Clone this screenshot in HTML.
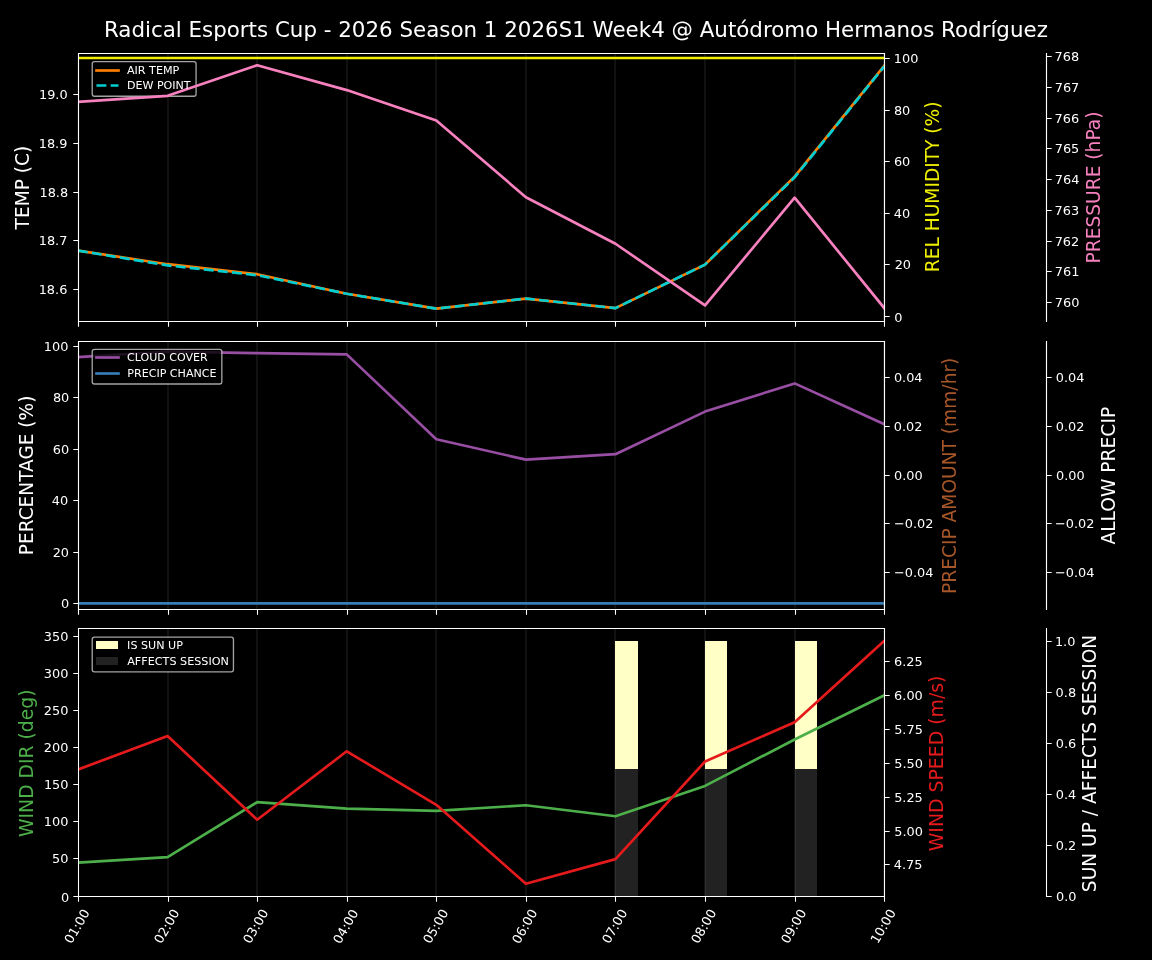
<!DOCTYPE html>
<html lang="en"><head><meta charset="utf-8"><title>Radical Esports Cup weather forecast</title>
<style>html,body{margin:0;padding:0;background:#000}svg{display:block}text{white-space:pre}</style></head>
<body>
<svg width="1152" height="960" viewBox="0 0 1152 960">
<rect width="1152" height="960" fill="#000"/>
<defs>
<clipPath id="c0"><rect x="78" y="52.85" width="806.2" height="267.9"/></clipPath>
<clipPath id="c1"><rect x="78" y="340.65" width="806.2" height="267.9"/></clipPath>
<clipPath id="c2"><rect x="78" y="628.45" width="806.2" height="267.9"/></clipPath>
</defs>
<path clip-path="url(#c0)" d="M78 52.85V320.75M168 52.85V320.75M257 52.85V320.75M347 52.85V320.75M436 52.85V320.75M526 52.85V320.75M615 52.85V320.75M705 52.85V320.75M795 52.85V320.75M884 52.85V320.75" stroke="#fff" stroke-opacity="0.085" stroke-width="1.6" fill="none"/>
<path d="M78.5 321.5v5.17M168.5 321.5v5.17M257.5 321.5v5.17M347.5 321.5v5.17M436.5 321.5v5.17M526.5 321.5v5.17M615.5 321.5v5.17M705.5 321.5v5.17M795.5 321.5v5.17M884.5 321.5v5.17" stroke="#fff" stroke-width="1.07" fill="none"/>
<path d="M78.5 289.5h-5.17M78.5 240.5h-5.17M78.5 192.5h-5.17M78.5 143.5h-5.17M78.5 94.5h-5.17" stroke="#fff" stroke-width="1.07" fill="none"/>
<polyline clip-path="url(#c0)" points="78,250.6 167.58,264.2 257.16,274.2 346.73,293.75 436.31,308.65 525.89,298.55 615.47,308.1 705.04,264.6 794.62,176.6 884.2,65.9" fill="none" stroke="#ff7f00" stroke-width="2.67" stroke-linejoin="round" stroke-linecap="square"/>
<polyline clip-path="url(#c0)" points="78,250.6 167.58,265.4 257.16,275.2 346.73,293.75 436.31,308.65 525.89,298.55 615.47,308.1 705.04,264.6 794.62,177.3 884.2,66.4" fill="none" stroke="#00ced1" stroke-width="2.67" stroke-linejoin="round" stroke-linecap="butt" stroke-dasharray="9.87 4.27"/>
<path d="M78.5 53.5H884.5V321.5H78.5Z" fill="none" stroke="#fff" stroke-width="1.07" stroke-linejoin="miter"/>
<path d="M1046.5 53.5V321.5" fill="none" stroke="#fff" stroke-width="1.07" stroke-linecap="square"/>
<rect x="92.22" y="61.58" width="103.86" height="34.64" rx="2.22" fill="#000" fill-opacity="0.8" stroke="#ccc" stroke-opacity="0.8" stroke-width="1.33"/>
<path d="M96.5 70.5H118.5" stroke="#ff7f00" stroke-width="2.67" stroke-linecap="square" fill="none"/>
<path d="M96.5 85.5H118.5" stroke="#00ced1" stroke-width="2.67" stroke-dasharray="9.87 4.27" fill="none"/>
<path d="M884.5 316.5h5.17M884.5 264.5h5.17M884.5 213.5h5.17M884.5 161.5h5.17M884.5 110.5h5.17M884.5 58.5h5.17" stroke="#fff" stroke-width="1.07" fill="none"/>
<polyline clip-path="url(#c0)" points="78,58 167.58,58 257.16,58 346.73,58 436.31,58 525.89,58 615.47,58 705.04,58 794.62,58 884.2,58" fill="none" stroke="#eeee00" stroke-width="2.67" stroke-linejoin="round" stroke-linecap="square"/>
<path d="M1046.5 302.5h5.17M1046.5 271.5h5.17M1046.5 241.5h5.17M1046.5 210.5h5.17M1046.5 179.5h5.17M1046.5 148.5h5.17M1046.5 118.5h5.17M1046.5 87.5h5.17M1046.5 56.5h5.17" stroke="#fff" stroke-width="1.07" fill="none"/>
<polyline clip-path="url(#c0)" points="78,101.9 167.58,95.8 257.16,65.2 346.73,90.1 436.31,120.6 525.89,197.2 615.47,243.75 705.04,305.4 794.62,197.7 884.2,308" fill="none" stroke="#f781bf" stroke-width="2.67" stroke-linejoin="round" stroke-linecap="square"/>
<path d="M78.5 53.5H884.5V321.5H78.5Z" fill="none" stroke="#fff" stroke-width="1.07" stroke-linejoin="miter"/>
<path d="M1046.5 53.5V321.5" fill="none" stroke="#fff" stroke-width="1.07" stroke-linecap="square"/>
<path clip-path="url(#c1)" d="M78 340.65V608.55M168 340.65V608.55M257 340.65V608.55M347 340.65V608.55M436 340.65V608.55M526 340.65V608.55M615 340.65V608.55M705 340.65V608.55M795 340.65V608.55M884 340.65V608.55" stroke="#fff" stroke-opacity="0.085" stroke-width="1.6" fill="none"/>
<path d="M78.5 609.5v5.17M168.5 609.5v5.17M257.5 609.5v5.17M347.5 609.5v5.17M436.5 609.5v5.17M526.5 609.5v5.17M615.5 609.5v5.17M705.5 609.5v5.17M795.5 609.5v5.17M884.5 609.5v5.17" stroke="#fff" stroke-width="1.07" fill="none"/>
<path d="M78.5 603.5h-5.17M78.5 552.5h-5.17M78.5 500.5h-5.17M78.5 449.5h-5.17M78.5 397.5h-5.17M78.5 346.5h-5.17" stroke="#fff" stroke-width="1.07" fill="none"/>
<polyline clip-path="url(#c1)" points="78,357.2 167.58,351.6 257.16,353.2 346.73,354.4 436.31,439.3 525.89,459.6 615.47,454.2 705.04,411.6 794.62,383.4 884.2,424.2" fill="none" stroke="#984ea3" stroke-width="2.67" stroke-linejoin="round" stroke-linecap="square"/>
<polyline clip-path="url(#c1)" points="78,603.45 167.58,603.45 257.16,603.45 346.73,603.45 436.31,603.45 525.89,603.45 615.47,603.45 705.04,603.45 794.62,603.45 884.2,603.45" fill="none" stroke="#377eb8" stroke-width="2.67" stroke-linejoin="round" stroke-linecap="square"/>
<path d="M78.5 341.5H884.5V609.5H78.5Z" fill="none" stroke="#fff" stroke-width="1.07" stroke-linejoin="miter"/>
<path d="M1046.5 341.5V609.5" fill="none" stroke="#fff" stroke-width="1.07" stroke-linecap="square"/>
<rect x="92.22" y="349.38" width="129.61" height="34.64" rx="2.22" fill="#000" fill-opacity="0.8" stroke="#ccc" stroke-opacity="0.8" stroke-width="1.33"/>
<path d="M96.5 357.5H118.5" stroke="#984ea3" stroke-width="2.67" stroke-linecap="square" fill="none"/>
<path d="M96.5 373.5H118.5" stroke="#377eb8" stroke-width="2.67" stroke-linecap="square" fill="none"/>
<path d="M884.5 572.5h5.17M884.5 523.5h5.17M884.5 475.5h5.17M884.5 426.5h5.17M884.5 377.5h5.17" stroke="#fff" stroke-width="1.07" fill="none"/>
<path d="M1046.5 572.5h5.17M1046.5 523.5h5.17M1046.5 475.5h5.17M1046.5 426.5h5.17M1046.5 377.5h5.17" stroke="#fff" stroke-width="1.07" fill="none"/>
<path d="M78.5 341.5H884.5V609.5H78.5Z" fill="none" stroke="#fff" stroke-width="1.07" stroke-linejoin="miter"/>
<path d="M1046.5 341.5V609.5" fill="none" stroke="#fff" stroke-width="1.07" stroke-linecap="square"/>
<rect x="615" y="641" width="23" height="128" fill="#ffffc6"/>
<rect x="615" y="769" width="23" height="127" fill="#222222"/>
<rect x="705" y="641" width="22" height="128" fill="#ffffc6"/>
<rect x="705" y="769" width="22" height="127" fill="#222222"/>
<rect x="795" y="641" width="22" height="128" fill="#ffffc6"/>
<rect x="795" y="769" width="22" height="127" fill="#222222"/>
<path clip-path="url(#c2)" d="M78 628.45V896.35M168 628.45V896.35M257 628.45V896.35M347 628.45V896.35M436 628.45V896.35M526 628.45V896.35M615 628.45V896.35M705 628.45V896.35M795 628.45V896.35M884 628.45V896.35" stroke="#fff" stroke-opacity="0.085" stroke-width="1.6" fill="none"/>
<path d="M78.5 896.5v5.17M168.5 896.5v5.17M257.5 896.5v5.17M347.5 896.5v5.17M436.5 896.5v5.17M526.5 896.5v5.17M615.5 896.5v5.17M705.5 896.5v5.17M795.5 896.5v5.17M884.5 896.5v5.17" stroke="#fff" stroke-width="1.07" fill="none"/>
<path d="M78.5 896.5h-5.17M78.5 858.5h-5.17M78.5 821.5h-5.17M78.5 784.5h-5.17M78.5 747.5h-5.17M78.5 710.5h-5.17M78.5 673.5h-5.17M78.5 636.5h-5.17" stroke="#fff" stroke-width="1.07" fill="none"/>
<polyline clip-path="url(#c2)" points="78,862.7 167.58,857.2 257.16,802.2 346.73,808.6 436.31,810.9 525.89,805.25 615.47,816.3 705.04,785.9 794.62,739.5 884.2,695.4" fill="none" stroke="#4daf4a" stroke-width="2.67" stroke-linejoin="round" stroke-linecap="square"/>
<path d="M884.5 864.5h5.17M884.5 831.5h5.17M884.5 797.5h5.17M884.5 763.5h5.17M884.5 729.5h5.17M884.5 695.5h5.17M884.5 661.5h5.17" stroke="#fff" stroke-width="1.07" fill="none"/>
<polyline clip-path="url(#c2)" points="78,769.5 167.58,736.1 257.16,819.7 346.73,751.3 436.31,804.8 525.89,883.8 615.47,859.1 705.04,761.5 794.62,722.2 884.2,641" fill="none" stroke="#e41a1c" stroke-width="2.67" stroke-linejoin="round" stroke-linecap="square"/>
<path d="M1046.5 896.5h5.17M1046.5 845.5h5.17M1046.5 794.5h5.17M1046.5 743.5h5.17M1046.5 692.5h5.17M1046.5 641.5h5.17" stroke="#fff" stroke-width="1.07" fill="none"/>
<path d="M78.5 628.5H884.5V896.5H78.5Z" fill="none" stroke="#fff" stroke-width="1.07" stroke-linejoin="miter"/>
<path d="M1046.5 628.5V896.5" fill="none" stroke="#fff" stroke-width="1.07" stroke-linecap="square"/>
<rect x="92.22" y="637.18" width="141.23" height="34.64" rx="2.22" fill="#000" fill-opacity="0.8" stroke="#ccc" stroke-opacity="0.8" stroke-width="1.33"/>
<rect x="96" y="641" width="22" height="8" fill="#ffffc6"/>
<rect x="96" y="657" width="22" height="8" fill="#222222"/>
<g font-family="'DejaVu Sans', sans-serif">
<text x="67.35" y="293.81" font-size="12.88" fill="#ffffff" text-anchor="end">18.6</text>
<text x="67.37" y="244.92" font-size="12.88" fill="#ffffff" text-anchor="end">18.7</text>
<text x="68.17" y="197.32" font-size="12.88" fill="#ffffff" text-anchor="end">18.8</text>
<text x="67.37" y="148.49" font-size="12.88" fill="#ffffff" text-anchor="end">18.9</text>
<text x="67.61" y="98.79" font-size="12.88" fill="#ffffff" text-anchor="end">19.0</text>
<text transform="translate(28.69 187.57) rotate(-90)" font-size="18.57" fill="#ffffff" text-anchor="middle">TEMP (C)</text>
<text x="126.92" y="73.91" font-size="11.15" fill="#ffffff">AIR TEMP</text>
<text x="126.92" y="89.38" font-size="11.09" fill="#ffffff">DEW POINT</text>
<text x="69.29" y="608.39" font-size="12.88" fill="#ffffff" text-anchor="end">0</text>
<text x="69.05" y="556.7" font-size="12.88" fill="#ffffff" text-anchor="end">20</text>
<text x="68.18" y="505.29" font-size="12.88" fill="#ffffff" text-anchor="end">40</text>
<text x="69.17" y="453.86" font-size="12.88" fill="#ffffff" text-anchor="end">60</text>
<text x="69.32" y="402.23" font-size="12.88" fill="#ffffff" text-anchor="end">80</text>
<text x="68.37" y="350.71" font-size="12.88" fill="#ffffff" text-anchor="end">100</text>
<text transform="translate(33.04 475.38) rotate(-90)" font-size="18.55" fill="#ffffff" text-anchor="middle">PERCENTAGE (%)</text>
<text x="127.01" y="360.86" font-size="11.06" fill="#ffffff">CLOUD COVER</text>
<text x="127.28" y="377.03" font-size="11.08" fill="#ffffff">PRECIP CHANCE</text>
<text transform="translate(71.55 944.6) rotate(-60)" font-size="12.88" fill="#ffffff">01:00</text>
<text transform="translate(161.31 944.57) rotate(-60)" font-size="12.88" fill="#ffffff">02:00</text>
<text transform="translate(250.27 944.57) rotate(-60)" font-size="12.88" fill="#ffffff">03:00</text>
<text transform="translate(340.23 944.73) rotate(-60)" font-size="12.88" fill="#ffffff">04:00</text>
<text transform="translate(430.28 944.59) rotate(-60)" font-size="12.88" fill="#ffffff">05:00</text>
<text transform="translate(519.24 944.64) rotate(-60)" font-size="12.88" fill="#ffffff">06:00</text>
<text transform="translate(609.23 944.57) rotate(-60)" font-size="12.88" fill="#ffffff">07:00</text>
<text transform="translate(698.25 944.62) rotate(-60)" font-size="12.88" fill="#ffffff">08:00</text>
<text transform="translate(788.23 944.6) rotate(-60)" font-size="12.88" fill="#ffffff">09:00</text>
<text transform="translate(877.75 944.6) rotate(-60)" font-size="12.88" fill="#ffffff">10:00</text>
<text x="69.29" y="901.6" font-size="12.88" fill="#ffffff" text-anchor="end">0</text>
<text x="68.36" y="863.21" font-size="12.88" fill="#ffffff" text-anchor="end">50</text>
<text x="68.37" y="826.22" font-size="12.88" fill="#ffffff" text-anchor="end">100</text>
<text x="68.46" y="788.89" font-size="12.88" fill="#ffffff" text-anchor="end">150</text>
<text x="68.36" y="751.9" font-size="12.88" fill="#ffffff" text-anchor="end">200</text>
<text x="68.41" y="714.58" font-size="12.88" fill="#ffffff" text-anchor="end">250</text>
<text x="68.33" y="677.63" font-size="12.88" fill="#ffffff" text-anchor="end">300</text>
<text x="68.33" y="641.3" font-size="12.88" fill="#ffffff" text-anchor="end">350</text>
<text transform="translate(33.11 763.26) rotate(-90)" font-size="18.75" fill="#4daf4a" text-anchor="middle">WIND DIR (deg)</text>
<text x="894.18" y="321.59" font-size="12.88" fill="#ffffff">0</text>
<text x="894.63" y="268.9" font-size="12.88" fill="#ffffff">20</text>
<text x="893.8" y="218.48" font-size="12.88" fill="#ffffff">40</text>
<text x="893.89" y="166.07" font-size="12.88" fill="#ffffff">60</text>
<text x="893.9" y="115.43" font-size="12.88" fill="#ffffff">80</text>
<text x="893.81" y="62.9" font-size="12.88" fill="#ffffff">100</text>
<text transform="translate(938.55 186.84) rotate(-90)" font-size="18.61" fill="#eeee00" text-anchor="middle">REL HUMIDITY (%)</text>
<text x="1054.81" y="307" font-size="12.88" fill="#ffffff">760</text>
<text x="1054.79" y="276.18" font-size="12.88" fill="#ffffff">761</text>
<text x="1054.63" y="246.43" font-size="12.88" fill="#ffffff">762</text>
<text x="1054.59" y="214.72" font-size="12.88" fill="#ffffff">763</text>
<text x="1054.76" y="184.08" font-size="12.88" fill="#ffffff">764</text>
<text x="1054.72" y="153.21" font-size="12.88" fill="#ffffff">765</text>
<text x="1054.62" y="122.69" font-size="12.88" fill="#ffffff">766</text>
<text x="1054.73" y="91.86" font-size="12.88" fill="#ffffff">767</text>
<text x="1054.61" y="61.17" font-size="12.88" fill="#ffffff">768</text>
<text transform="translate(1099.64 187.53) rotate(-90)" font-size="18.64" fill="#f781bf" text-anchor="middle">PRESSURE (hPa)</text>
<text x="894.05" y="576.59" font-size="12.88" fill="#ffffff">−0.04</text>
<text x="893.96" y="527.83" font-size="12.88" fill="#ffffff">−0.02</text>
<text x="893.95" y="480.42" font-size="12.88" fill="#ffffff">0.00</text>
<text x="893.7" y="430.62" font-size="12.88" fill="#ffffff">0.02</text>
<text x="893.89" y="381.96" font-size="12.88" fill="#ffffff">0.04</text>
<text transform="translate(956.41 475.79) rotate(-90)" font-size="18.63" fill="#a65628" text-anchor="middle">PRECIP AMOUNT (mm/hr)</text>
<text x="1055.06" y="576.6" font-size="12.88" fill="#ffffff">−0.04</text>
<text x="1054.93" y="527.83" font-size="12.88" fill="#ffffff">−0.02</text>
<text x="1055.95" y="480.41" font-size="12.88" fill="#ffffff">0.00</text>
<text x="1055.71" y="430.61" font-size="12.88" fill="#ffffff">0.02</text>
<text x="1055.84" y="381.97" font-size="12.88" fill="#ffffff">0.04</text>
<text transform="translate(1115.17 475.72) rotate(-90)" font-size="18.67" fill="#ffffff" text-anchor="middle">ALLOW PRECIP</text>
<text x="893.77" y="869" font-size="12.88" fill="#ffffff">4.75</text>
<text x="894.2" y="836.25" font-size="12.88" fill="#ffffff">5.00</text>
<text x="894.15" y="802.07" font-size="12.88" fill="#ffffff">5.25</text>
<text x="894.21" y="768.27" font-size="12.88" fill="#ffffff">5.50</text>
<text x="894.16" y="734.22" font-size="12.88" fill="#ffffff">5.75</text>
<text x="894.1" y="699.85" font-size="12.88" fill="#ffffff">6.00</text>
<text x="894.04" y="665.71" font-size="12.88" fill="#ffffff">6.25</text>
<text transform="translate(942.71 763.44) rotate(-90)" font-size="18.87" fill="#e41a1c" text-anchor="middle">WIND SPEED (m/s)</text>
<text x="1056" y="901.09" font-size="12.88" fill="#ffffff">0.0</text>
<text x="1055.71" y="849.9" font-size="12.88" fill="#ffffff">0.2</text>
<text x="1055.72" y="798.98" font-size="12.88" fill="#ffffff">0.4</text>
<text x="1055.78" y="748.06" font-size="12.88" fill="#ffffff">0.6</text>
<text x="1055.6" y="696.94" font-size="12.88" fill="#ffffff">0.8</text>
<text x="1054.9" y="645.8" font-size="12.88" fill="#ffffff">1.0</text>
<text transform="translate(1096.34 763.45) rotate(-90)" font-size="18.63" fill="#ffffff" text-anchor="middle">SUN UP / AFFECTS SESSION</text>
<text x="127.11" y="648.5" font-size="11.14" fill="#ffffff">IS SUN UP</text>
<text x="127.17" y="664.93" font-size="11.2" fill="#ffffff">AFFECTS SESSION</text>
<text x="575.93" y="36.89" font-size="21.38" fill="#ffffff" text-anchor="middle">Radical Esports Cup - 2026 Season 1 2026S1 Week4 @ Autódromo Hermanos Rodríguez</text>
</g>
</svg>
</body></html>
